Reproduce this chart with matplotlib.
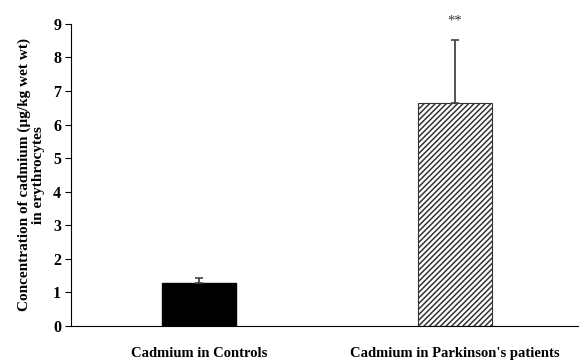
import matplotlib.pyplot as plt

# data
groups = ['Cadmium in Controls', "Cadmium in Parkinson's patients"]
means = [1.28, 6.63]
errors = [0.14, 1.9]
yticks = [0, 1, 2, 3, 4, 5, 6, 7, 8, 9]

plt.rcParams['font.family'] = ['Liberation Serif', 'DejaVu Serif']
plt.rcParams['font.weight'] = 'bold'
plt.rcParams['axes.labelweight'] = 'bold'
plt.rcParams['hatch.linewidth'] = 1.1

fig = plt.figure(figsize=(5.81, 3.61), dpi=100)
ax = fig.add_axes([0.122, 0.097, 0.873, 0.837])

x = [0, 1]
ax.bar(x[0], means[0], width=0.29, color='black', edgecolor='black')
ax.bar(x[1], means[1], width=0.29, color='white', edgecolor='#333333',
       hatch='//////', linewidth=0.8)
ax.errorbar(x, means, yerr=[[0, 0], errors], fmt='none', ecolor='#444444',
            elinewidth=1.3, capsize=3, capthick=1.2)

# significance
ax.text(x[1], means[1] + errors[1] + 0.55, '**', ha='center', va='center',
        fontsize=10.5, color='#333333', fontweight='normal')

ax.set_xlim(-0.5, 1.48)
ax.set_ylim(0, 9)
ax.set_yticks(yticks)
ax.set_xticks(x)
ax.set_xticklabels(groups, fontsize=10.5)
ax.tick_params(axis='x', length=0, pad=15)
ax.tick_params(axis='y', length=4, labelsize=11.5, pad=3)
ax.set_ylabel('Concentration of cadmium (\u00b5g/kg wet wt)\nin erythrocytes',
              fontsize=11, fontweight='bold', labelpad=6, linespacing=1.1)

ax.spines['top'].set_visible(False)
ax.spines['right'].set_visible(False)

plt.savefig('out.png', dpi=100)
